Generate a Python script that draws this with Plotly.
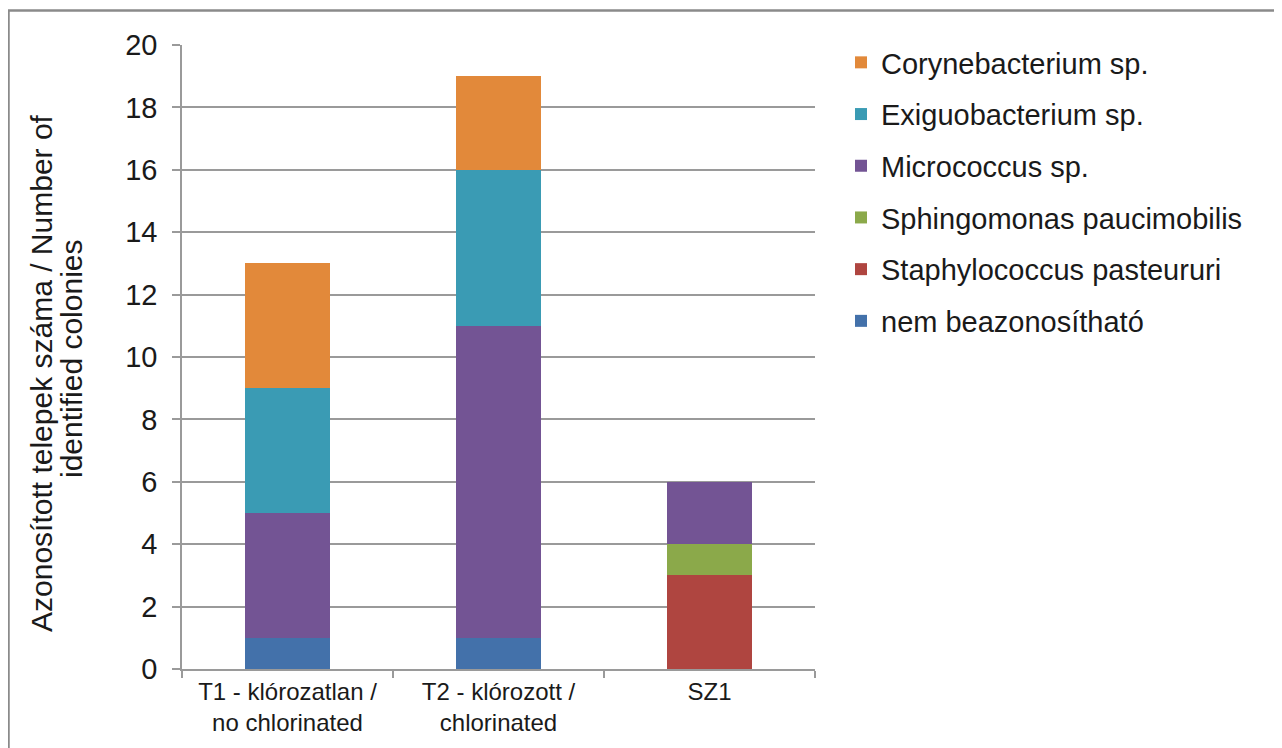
import plotly.graph_objects as go

categories = ["T1 - klórozatlan /<br>no chlorinated", "T2 - klórozott /<br>chlorinated", "SZ1"]
series_names = ["nem beazonosítható", "Staphylococcus pasteururi", "Sphingomonas paucimobilis",
                "Micrococcus sp.", "Exiguobacterium sp.", "Corynebacterium sp."]
nem = [1, 1, 0]
staph = [0, 0, 3]
sphingo = [0, 0, 1]
micro = [4, 10, 2]
exiguo = [4, 5, 0]
coryne = [4, 3, 0]
y_ticks = list(range(0, 21, 2))
y_title_lines = ["Azonosított telepek száma / Number of", "identified colonies"]

colors = ["#4371AA", "#AF4540", "#8BA94A", "#735494", "#3A9BB4", "#E2893A"]
values = [nem, staph, sphingo, micro, exiguo, coryne]

FONT = "Liberation Sans, Arial, sans-serif"
OFF = 8  # browser body margin
W, H = 1282 - OFF, 748 - OFF
L, T = 182 - OFF, 45 - OFF
R, B = W - (815 - OFF), H - (669 - OFF)
pw, ph = W - L - R, H - T - B


def px(x):
    return (x - 182) / pw


def py(y):
    return (669 - y) / ph


fig = go.Figure()
n = len(series_names)
for i, (name, vals, col) in enumerate(zip(series_names, values, colors)):
    fig.add_trace(go.Bar(x=categories, y=vals, name=name, marker=dict(color=col, line=dict(width=0)),
                         legendgroup=name, legendrank=n - i))

fig.update_layout(
    width=W, height=H,
    margin=dict(l=L, r=R, t=T, b=B),
    barmode="stack", bargap=0.6,
    plot_bgcolor="white", paper_bgcolor="white",
    font=dict(family=FONT, color="#1a1a1a"),
    legend=dict(x=px(841), xanchor="left", y=1 + 8 / ph, yanchor="top",
                traceorder="grouped", tracegroupgap=11,
                font=dict(size=29, family=FONT, color="#1a1a1a"), bgcolor="rgba(0,0,0,0)"),
    showlegend=True,
)
fig.update_yaxes(range=[0, 20], tickvals=y_ticks, showgrid=True, gridcolor="#9a9a9a", gridwidth=1.5,
                 showline=True, linecolor="#9a9a9a", linewidth=1.5,
                 ticks="outside", ticklen=8, tickcolor="#9a9a9a", tickwidth=1.5,
                 tickfont=dict(size=29, family=FONT, color="#1a1a1a"), ticklabelstandoff=9,
                 zeroline=False)
fig.update_xaxes(showline=True, linecolor="#9a9a9a", linewidth=1.5,
                 ticks="outside", ticklen=7, tickcolor="#9a9a9a", tickwidth=1.5, tickson="boundaries",
                 tickfont=dict(size=24, family=FONT, color="#1a1a1a"))

# two-line rotated y-axis title
for txt, cx, cy in zip(y_title_lines, [41, 71], [373, 359]):
    fig.add_annotation(text=txt, xref="paper", yref="paper", x=px(cx), y=py(cy),
                       xanchor="center", yanchor="middle", textangle=-90, showarrow=False,
                       font=dict(size=30, family=FONT, color="#1a1a1a"))

fig.add_shape(type="rect", xref="paper", yref="paper",
              x0=px(8.5), x1=2.0, y0=-0.3, y1=py(10.5),
              line=dict(color="#8a8a8a", width=2.5), fillcolor="rgba(0,0,0,0)", layer="below")

fig.write_html("out.html")
